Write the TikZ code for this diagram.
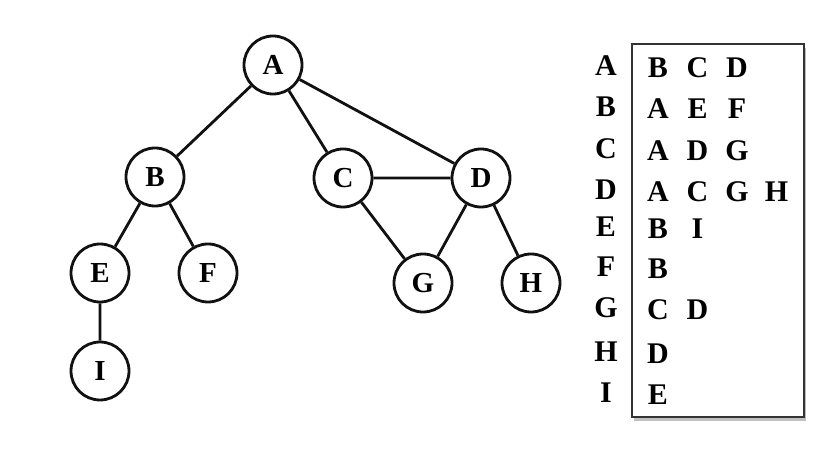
\documentclass[tikz,border=0pt]{standalone}
\usepackage{fontspec}
\setmainfont{Liberation Serif}
\usepackage{tikz}
\usetikzlibrary{positioning,shadows}
\definecolor{cLine}{HTML}{111111}
\definecolor{cFrame}{HTML}{333333}
\tikzset{
  vtx/.style={circle, draw=cLine, line width=1.4pt, fill=white, minimum size=29pt,
              inner sep=0pt, font=\fontsize{14.5}{16}\selectfont\bfseries},
  edge/.style={line width=1.4pt, draw=cLine},
  listbox/.style={draw=cFrame, line width=1.1pt, fill=white, inner sep=0pt,
                  drop shadow={shadow xshift=1.2pt, shadow yshift=-2.2pt, fill=black!45, opacity=.55}},
  lbl/.style={inner sep=0pt, font=\fontsize{15}{17}\selectfont\bfseries},
}

\begin{document}
\begin{tikzpicture}[x=0.5pt,y=-0.5pt]
  \useasboundingbox (0,0) rectangle (831,454);
  % the graph
  \node[vtx] (A) at (273,65) {A};
  \node[vtx] (B) at (155,177) {B};
  \node[vtx] (C) at (343,178) {C};
  \node[vtx] (D) at (481,178) {D};
  \node[vtx] (E) at (100,273) {E};
  \node[vtx] (F) at (208,273) {F};
  \node[vtx] (G) at (423,283) {G};
  \node[vtx] (H) at (531,283) {H};
  \node[vtx] (I) at (100,371) {I};
  \draw[edge] (A)--(B) (A)--(C) (A)--(D);
  \draw[edge] (B)--(E) (B)--(F) (E)--(I);
  \draw[edge] (C)--(D) (C)--(G) (D)--(G) (D)--(H);
  % adjacency lists
  \node[listbox, minimum width=86pt, minimum height=186.5pt] (adj) at (718,230.5) {};
  \foreach \v/\y/\nbrs in {A/66/{B,C,D}, B/107/{A,E,F}, C/149/{A,D,G}, D/190/{A,C,G,H},
                           E/227/{B,I}, F/267/{B}, G/308/{C,D}, H/352/{D}, I/393/{E}}{
    \node[lbl] (row\v) at (606,\y) {\v};
    \foreach \n [count=\i] in \nbrs
      \node[lbl] (ent\v\i) at ({658+39.5*(\i-1)},\y+2) {\n};
  }
\end{tikzpicture}
\end{document}
